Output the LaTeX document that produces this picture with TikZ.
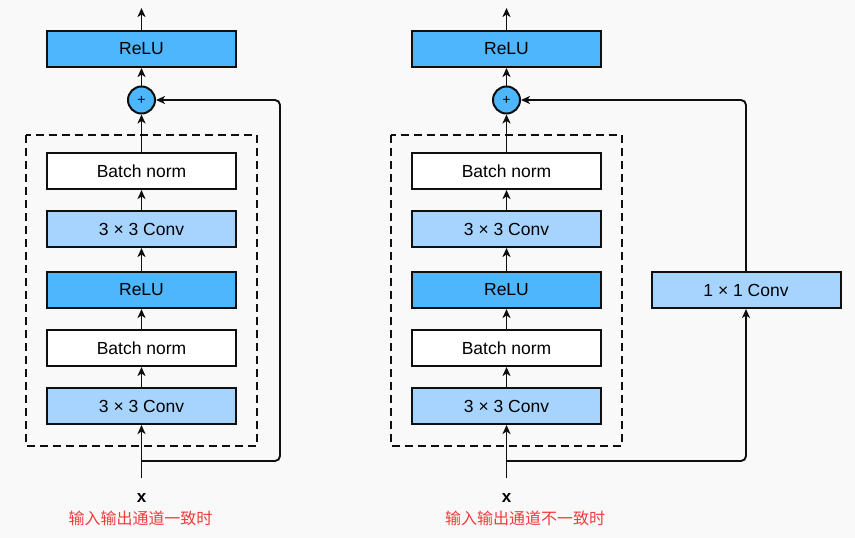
\documentclass[tikz,border=0pt]{standalone}
\usepackage{fontspec}
\setmainfont{Liberation Sans}
\newfontfamily\cjk{Noto Sans CJK SC}
\usetikzlibrary{arrows.meta}
\definecolor{bg}{RGB}{249,249,249}
\definecolor{reluc}{RGB}{77,182,252}
\definecolor{convc}{RGB}{166,212,255}
\definecolor{redtxt}{RGB}{240,60,60}
\definecolor{linec}{RGB}{15,15,15}
\begin{document}
\begin{tikzpicture}[x=1pt,y=-1pt,
  blk/.style={draw=linec,line width=2pt,minimum width=189pt,minimum height=36pt,inner sep=0pt,font=\fontsize{17.5}{20}\selectfont},
  relub/.style={blk,fill=reluc},
  convb/.style={blk,fill=convc},
  bnb/.style={blk,fill=white},
  addc/.style={circle,draw=linec,line width=2pt,fill=reluc,minimum size=27pt,inner sep=0pt,font=\fontsize{14}{16}\selectfont},
  arr/.style={line width=1.9pt,draw=linec,-{Stealth[length=9pt,width=8pt,inset=2.5pt]}},
  dbox/.style={draw=linec,line width=1.8pt,dash pattern=on 8pt off 5pt},
  xlab/.style={font=\fontsize{17}{19}\selectfont\rmfamily\bfseries},
  cnlab/.style={font=\fontsize{16}{18}\selectfont\cjk,text=redtxt}]
\fill[bg] (0,0) rectangle (855,538);
\useasboundingbox (0,0) rectangle (855,538);

% ---------- left ----------
\draw[dbox] (26,135) rectangle (257,446);
\node[relub] (lrelu) at (141.5,49) {ReLU};
\node[addc] (ladd) at (141.5,100) {+};
\node[bnb] (lbn1) at (141.5,171) {Batch norm};
\node[convb] (lconv1) at (141.5,229) {3 × 3 Conv};
\node[relub] (lrelu1) at (141.5,290) {ReLU};
\node[bnb] (lbn2) at (141.5,348) {Batch norm};
\node[convb] (lconv2) at (141.5,406) {3 × 3 Conv};
\coordinate (ltop) at (141.5,8);
\coordinate (lin) at (141.5,478);
\coordinate (lsplit) at (141.5,461);
\coordinate (lright) at (280,461);
\node[xlab] (lx) at (141.5,498) {x};
\node[cnlab] (lcn) at (140.5,518) {输入输出通道一致时};

\draw[arr] (lrelu.north) -- (ltop);
\draw[arr] (ladd.north) -- (lrelu.south);
\draw[arr] (lbn1.north) -- (ladd.south);
\draw[arr] (lconv1.north) -- (lbn1.south);
\draw[arr] (lrelu1.north) -- (lconv1.south);
\draw[arr] (lbn2.north) -- (lrelu1.south);
\draw[arr] (lconv2.north) -- (lbn2.south);
\draw[arr] (lin) -- (lconv2.south);
\draw[arr,rounded corners=5pt] (lsplit) -- (lright) |- (ladd.east);

% ---------- right ----------
\draw[dbox] (391,135) rectangle (622,446);
\node[relub] (rrelu) at (506.5,49) {ReLU};
\node[addc] (radd) at (506.5,100) {+};
\node[bnb] (rbn1) at (506.5,171) {Batch norm};
\node[convb] (rconv1) at (506.5,229) {3 × 3 Conv};
\node[relub] (rrelu1) at (506.5,290) {ReLU};
\node[bnb] (rbn2) at (506.5,348) {Batch norm};
\node[convb] (rconv2) at (506.5,406) {3 × 3 Conv};
\node[convb] (rconv3) at (746,290) {1 × 1 Conv};
\coordinate (rtop) at (506.5,8);
\coordinate (rin) at (506.5,478);
\coordinate (rsplit) at (506.5,461);
\node[xlab] (rx) at (506.5,498) {x};
\node[cnlab] (rcn) at (525,518) {输入输出通道不一致时};

\draw[arr] (rrelu.north) -- (rtop);
\draw[arr] (radd.north) -- (rrelu.south);
\draw[arr] (rbn1.north) -- (radd.south);
\draw[arr] (rconv1.north) -- (rbn1.south);
\draw[arr] (rrelu1.north) -- (rconv1.south);
\draw[arr] (rbn2.north) -- (rrelu1.south);
\draw[arr] (rconv2.north) -- (rbn2.south);
\draw[arr] (rin) -- (rconv2.south);
\draw[arr,rounded corners=5pt] (rsplit) -| (rconv3.south);
\draw[arr,rounded corners=5pt] (rconv3.north) |- (radd.east);
\end{tikzpicture}
\end{document}
